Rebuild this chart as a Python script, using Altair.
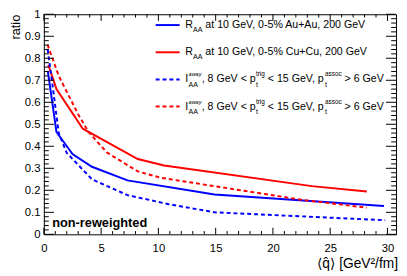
import altair as alt
import pandas as pd

# ---------------- data ----------------
raa_auau_q = [0.35, 1.1, 2.5, 4.2, 7.3, 14.9, 29.7]
raa_auau_r = [0.74, 0.465, 0.365, 0.307, 0.245, 0.181, 0.129]

raa_cucu_q = [0.39, 1.1, 3.4, 8.2, 10.5, 23.4, 28.2]
raa_cucu_r = [0.77, 0.66, 0.48, 0.342, 0.313, 0.219, 0.195]

iaa_blue_q = [0.33, 0.75, 1.3, 2.0, 4.2, 7.3, 10.9, 14.9, 29.8]
iaa_blue_r = [0.84, 0.68, 0.46, 0.37, 0.25, 0.178, 0.137, 0.100, 0.064]

iaa_red_q = [0.32, 1.3, 3.0, 3.9, 5.5, 8.2, 10.2, 22.5, 28.2]
iaa_red_r = [0.862, 0.72, 0.545, 0.465, 0.372, 0.286, 0.257, 0.157, 0.121]

x_major = [0, 5, 10, 15, 20, 25, 30]
x_minor = [i for i in range(31) if i % 5]
y_major = [0, 0.1, 0.2, 0.3, 0.4, 0.5, 0.6, 0.7, 0.8, 0.9, 1]
y_minor = [round(i * 0.02, 2) for i in range(51) if i % 5]

# ---------------- layout ----------------
W, H = 358.5, 224
X0, Y0 = 44.5, 12          # page position of plot origin
XMAX = 30.75
FONT = "Liberation Sans, DejaVu Sans"
BLUE, RED = "#0000ff", "#ff0000"

# Helvetica/Arial advance widths (per 1000 em) for chaining legend pieces
AFM = {" ": 278, ",": 278, "-": 333, "%": 889, "+": 584, "<": 584, ">": 584,
       "A": 667, "C": 722, "G": 778, "I": 278, "R": 722, "V": 667,
       "a": 556, "c": 500, "e": 556, "g": 556, "i": 222, "o": 556, "p": 556,
       "r": 333, "s": 500, "t": 278, "u": 556, "w": 722, "y": 500}


def tw(s, size):
    return sum(AFM.get(c, 556) for c in s) * size / 1000.0


xs = alt.Scale(domain=[0, XMAX], nice=False, zero=False)
ys = alt.Scale(domain=[0, 1], nice=False, zero=False)
XA = alt.Axis(values=x_major, ticks=False, domain=False, grid=False, title=None,
              labelFont=FONT, labelFontSize=11.5, labelPadding=9, labelColor="black",
              labelFlush=False)
YA = alt.Axis(values=y_major, format="~g", ticks=False, domain=False, grid=False, title=None,
              labelFont=FONT, labelFontSize=11.5, labelPadding=4, labelColor="black")


def curve(q, r, color, dash=None):
    kw = dict(color=color, strokeWidth=2)
    if dash:
        kw["strokeDash"] = dash
    return alt.Chart(pd.DataFrame({"q": q, "r": r})).mark_line(**kw).encode(
        x=alt.X("q:Q", scale=xs, axis=XA), y=alt.Y("r:Q", scale=ys, axis=YA))


def xticks(vals, length, top):
    df = pd.DataFrame({"v": vals})
    y1, y2 = (0, length) if top else (H, H - length)
    return alt.Chart(df).mark_rule(color="black", strokeWidth=1).encode(
        x=alt.X("v:Q", scale=xs, axis=XA), y=alt.value(y1), y2=alt.value(y2))


def yticks(vals, length, left):
    df = pd.DataFrame({"v": vals})
    x1, x2 = (0, length) if left else (W, W - length)
    return alt.Chart(df).mark_rule(color="black", strokeWidth=1).encode(
        y=alt.Y("v:Q", scale=ys, axis=YA), x=alt.value(x1), x2=alt.value(x2))


dummy = pd.DataFrame({"a": [0]})


def txt(t, px, py, size, bold=False, align="left", angle=0, baseline="alphabetic", italic=False):
    kw = dict(font=FONT, fontSize=size, align=align, baseline=baseline, color="black")
    if bold:
        kw["fontWeight"] = "bold"
    if italic:
        kw["fontStyle"] = "italic"
    if angle:
        kw["angle"] = angle
    return alt.Chart(dummy).mark_text(**kw).encode(
        x=alt.value(px - X0), y=alt.value(py - Y0), text=alt.value(t))


def legline(py, color, dash=None):
    kw = dict(color=color, strokeWidth=2)
    if dash:
        kw["strokeDash"] = dash
    return alt.Chart(dummy).mark_rule(**kw).encode(
        x=alt.value(158.3 - X0), x2=alt.value(182.7 - X0), y=alt.value(py - Y0))


layers = [
    curve(raa_auau_q, raa_auau_r, BLUE),
    curve(raa_cucu_q, raa_cucu_r, RED),
    curve(iaa_blue_q, iaa_blue_r, BLUE, [4, 3]),
    curve(iaa_red_q, iaa_red_r, RED, [4, 3]),
    xticks(x_major, 6.7, False), xticks(x_minor, 3.3, False),
    xticks(x_major, 6.7, True), xticks(x_minor, 3.3, True),
    yticks(y_major, 10.3, True), yticks(y_minor, 5, True),
    yticks(y_major, 10.3, False), yticks(y_minor, 5, False),
]

# legend
MS, SS, AS = 10.8, 7.2, 5.6
SP = tw(" ", MS)
leg_y = [23, 50.7, 78.3, 106]
layers += [legline(leg_y[0], BLUE), legline(leg_y[1], RED),
           legline(leg_y[2], BLUE, [4, 3]), legline(leg_y[3], RED, [4, 3])]

LX = 188.5
for ly, sysname in [(leg_y[0], "Au+Au"), (leg_y[1], "Cu+Cu")]:
    b = ly + 2.5
    x = LX
    layers.append(txt("R", x, b, MS)); x += tw("R", MS)
    layers.append(txt("AA", x, b + 4.5, SS)); x += tw("AA", SS) + SP
    layers.append(txt("at 10 GeV, 0-5% " + sysname + ", 200 GeV", x, b, MS))

for ly in leg_y[2:]:
    b = ly + 3
    x = LX
    layers.append(txt("I", x, b, MS)); x += tw("I", MS) + 0.3
    layers += [txt("away", x, b - 6, AS, italic=True), txt("AA", x, b + 4.5, SS)]
    x += max(tw("away", AS), tw("AA", SS)) + 0.3
    layers.append(txt(", 8 GeV < p", x, b, MS)); x += tw(", 8 GeV < p", MS) + 0.3
    layers += [txt("trig", x, b - 6, SS * 0.9), txt("t", x, b + 4.5, SS)]
    x += max(tw("trig", SS * 0.9), tw("t", SS)) + SP
    layers.append(txt("< 15 GeV, p", x, b, MS)); x += tw("< 15 GeV, p", MS) + 0.3
    layers += [txt("assoc", x, b - 6, SS * 0.9), txt("t", x, b + 4.5, SS)]
    x += max(tw("assoc", SS * 0.9), tw("t", SS)) + SP
    layers.append(txt("> 6 GeV", x, b, MS))

layers += [
    txt("non-reweighted", 53, 229, 13, bold=True),
    txt("⟨q̂⟩ [GeV²/fm]", 405, 270, 14, align="right"),
    txt("ratio", 16, 12.5, 13, align="right", angle=270, baseline="middle"),
]

chart = alt.layer(*layers).properties(
    width=W, height=H,
    autosize=alt.AutoSizeParams(type="none"),
    padding={"left": X0 - 8, "top": Y0 - 8, "right": 3, "bottom": 37},
).configure_view(stroke="black", strokeWidth=1)

chart.save("out.html", embed_options={"renderer": "svg", "actions": False})
